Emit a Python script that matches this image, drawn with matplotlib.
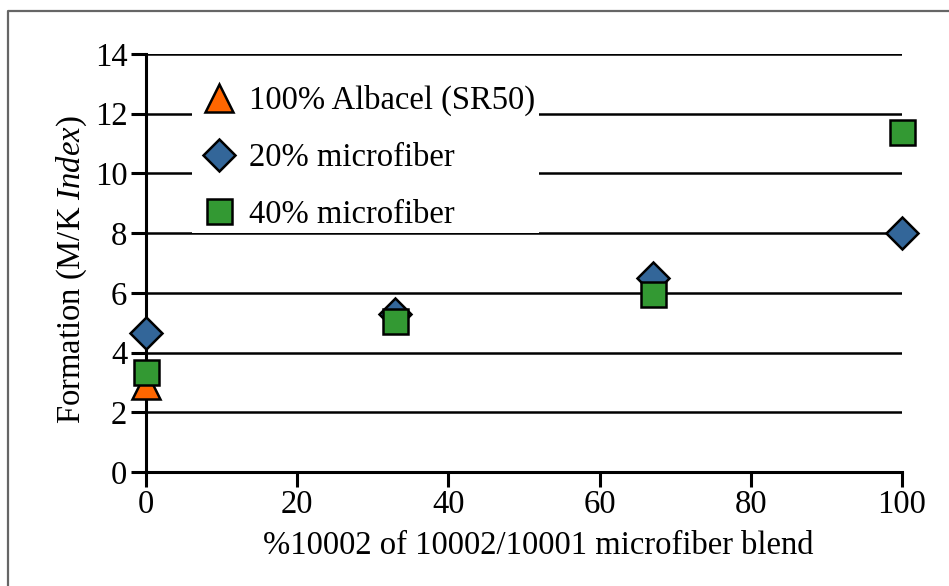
import matplotlib
matplotlib.use("Agg")
import matplotlib.pyplot as plt
from matplotlib.lines import Line2D

plt.rcParams['font.family'] = ['Liberation Serif', 'DejaVu Serif']
plt.rcParams['mathtext.fontset'] = 'custom'
plt.rcParams['mathtext.rm'] = 'Liberation Serif'
plt.rcParams['mathtext.it'] = 'Liberation Serif:italic'

# Data
albacel_x = [0]
albacel_y = [2.9]
micro20_x = [0, 33, 67, 100]
micro20_y = [4.65, 5.3, 6.5, 8.0]
micro40_x = [0, 33, 67, 100]
micro40_y = [3.35, 5.05, 5.95, 11.4]
series_labels = ["100% Albacel (SR50)", "20% microfiber", "40% microfiber"]
x_ticks = [0, 20, 40, 60, 80, 100]
y_ticks = [0, 2, 4, 6, 8, 10, 12, 14]

FS = 23.5
W, H = 949, 586
fig = plt.figure(figsize=(W / 100, H / 100), dpi=100)
ax = fig.add_axes([146 / W, 1 - 472 / H, (902 - 146) / W, (472 - 54) / H])

ax.set_xlim(0, 100)
ax.set_ylim(0, 14)
for s in ['top', 'right']:
    ax.spines[s].set_visible(False)
ax.spines['left'].set_linewidth(2.2)
ax.spines['bottom'].set_linewidth(2.2)
ax.spines['left'].set_zorder(1.5)
ax.spines['bottom'].set_zorder(1.5)

for yv in y_ticks[1:]:
    ax.axhline(yv, color='black', lw=1.8, zorder=1)

ax.set_xticks(x_ticks)
ax.set_yticks(y_ticks)
ax.tick_params(axis='both', direction='out', length=10.5, width=2.2, labelsize=FS, color='black')
ax.tick_params(axis='y', pad=3)
ax.tick_params(axis='x', pad=2)

ecol = 'black'
ew = 1.8
ax.plot(albacel_x, albacel_y, linestyle='none', marker='^', markersize=20,
        markerfacecolor='#FF6600', markeredgecolor=ecol, markeredgewidth=ew, zorder=3, clip_on=False)
ax.plot(micro20_x, micro20_y, linestyle='none', marker='D', markersize=16.5,
        markerfacecolor='#336699', markeredgecolor=ecol, markeredgewidth=ew, zorder=4, clip_on=False)
ax.plot(micro40_x, micro40_y, linestyle='none', marker='s', markersize=18,
        markerfacecolor='#339933', markeredgecolor=ecol, markeredgewidth=ew, zorder=5, clip_on=False)

handles = [
    Line2D([], [], linestyle='none', marker='^', markersize=20, markerfacecolor='#FF6600',
           markeredgecolor=ecol, markeredgewidth=ew),
    Line2D([], [], linestyle='none', marker='D', markersize=16.5, markerfacecolor='#336699',
           markeredgecolor=ecol, markeredgewidth=ew),
    Line2D([], [], linestyle='none', marker='s', markersize=18, markerfacecolor='#339933',
           markeredgecolor=ecol, markeredgewidth=ew),
]
leg = ax.legend(handles, series_labels, loc='upper left',
                bbox_to_anchor=(192 / W, 1 - 82 / H), bbox_transform=fig.transFigure,
                fontsize=FS, frameon=True, facecolor='white', edgecolor='none', framealpha=1,
                fancybox=False, borderpad=0.1, borderaxespad=0, handlelength=1.45,
                handletextpad=0.2, labelspacing=0.8, numpoints=1)
leg.set_zorder(6)

ax.set_xlabel("%10002 of 10002/10001 microfiber blend", fontsize=FS)
ax.xaxis.set_label_coords(538 / W, 1 - 531 / H, transform=fig.transFigure)
ax.set_ylabel("Formation (M/K $\\mathit{Index}$)", fontsize=FS)
ax.yaxis.set_label_coords(89 / W, 1 - 270 / H, transform=fig.transFigure)

# figure border (top and left visible)
fig.add_artist(Line2D([8 / W, 8 / W, 1.0], [0.0, 1 - 11 / H, 1 - 11 / H],
                      transform=fig.transFigure, color='#666666', lw=1.6))

fig.savefig("out.png", dpi=100, facecolor='white')
